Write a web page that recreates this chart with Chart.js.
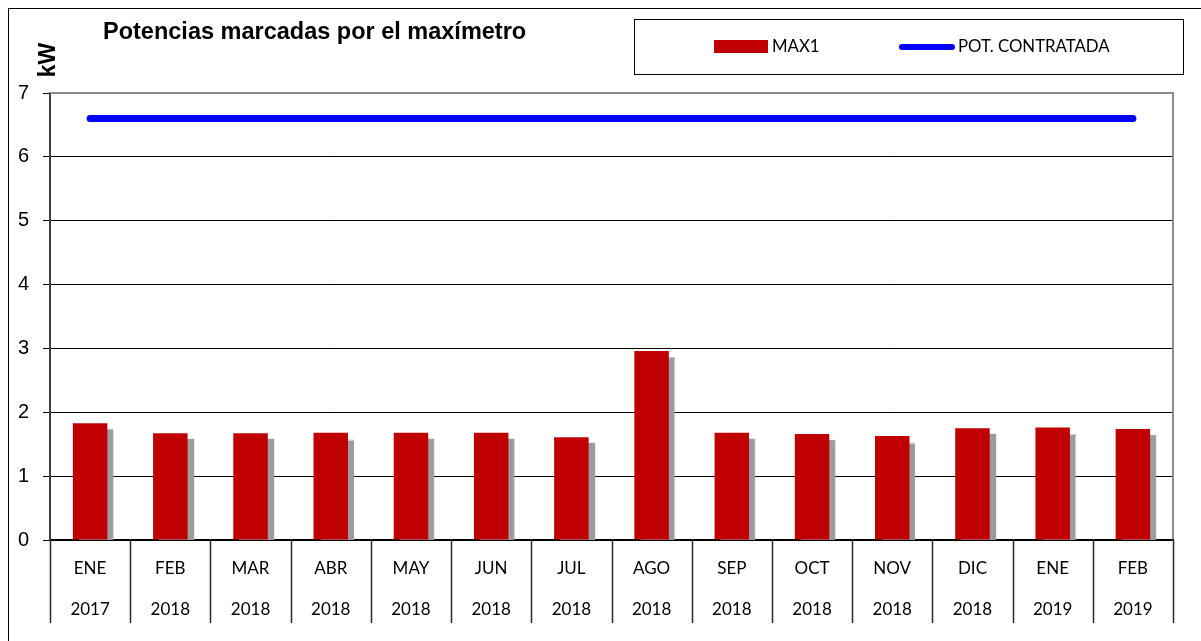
<!DOCTYPE html>
<html>
<head>
<meta charset="utf-8">
<script src="https://cdn.jsdelivr.net/npm/chart.js@4/dist/chart.umd.min.js"></script>
<style>
  html, body { margin: 0; padding: 0; background: #fff; }
  #wrap { position: relative; width: 1201px; height: 641px; }
</style>
</head>
<body>
<div id="wrap"><canvas id="chart"></canvas></div>
<script>
const months = ["ENE", "FEB", "MAR", "ABR", "MAY", "JUN", "JUL", "AGO", "SEP", "OCT", "NOV", "DIC", "ENE", "FEB"];
const years = ["2017", "2018", "2018", "2018", "2018", "2018", "2018", "2018", "2018", "2018", "2018", "2018", "2019", "2019"];
const max1 = [1.83, 1.67, 1.67, 1.68, 1.68, 1.68, 1.61, 2.96, 1.68, 1.66, 1.63, 1.75, 1.76, 1.74];
const potContratada = [6.6, 6.6, 6.6, 6.6, 6.6, 6.6, 6.6, 6.6, 6.6, 6.6, 6.6, 6.6, 6.6, 6.6];
const yTicks = [0, 1, 2, 3, 4, 5, 6, 7];

const titleText = "Potencias marcadas por el maxímetro";
const unitText = "kW";

const labels = months.map((m, i) => [m, years[i]]);

// shadows, frame, separators, title and the boxed legend
const decor = {
  id: "decor",
  beforeDraw(chart) {
    const ctx = chart.ctx;
    ctx.save();
    ctx.fillStyle = "#fff";
    ctx.fillRect(0, 0, chart.width, chart.height);
    ctx.restore();
  },
  beforeDatasetDraw(chart, args) {
    if (args.index !== 0) return;
    const ctx = chart.ctx;
    ctx.save();
    ctx.shadowColor = "#9c9c9c";
    ctx.shadowOffsetX = 6;
    ctx.shadowOffsetY = 6;
    ctx.shadowBlur = 1;
  },
  afterDatasetDraw(chart, args) {
    if (args.index !== 0) return;
    chart.ctx.restore();
  },
  afterDraw(chart) {
    const ctx = chart.ctx;
    const a = chart.chartArea;
    const x = chart.scales.x;
    ctx.save();

    // plot area border: grey top/right, dark left
    ctx.strokeStyle = "#8c8c8c";
    ctx.lineWidth = 2;
    ctx.beginPath();
    ctx.moveTo(a.left, a.top);
    ctx.lineTo(a.right, a.top);
    ctx.lineTo(a.right, a.bottom);
    ctx.stroke();

    // category separators below the axis
    const half = (x.getPixelForValue(1) - x.getPixelForValue(0)) / 2;
    ctx.strokeStyle = "#2b2b2b";
    ctx.lineWidth = 1.5;
    for (let i = 0; i <= months.length; i++) {
      const px = Math.round(x.getPixelForValue(i) - half) + 0.5;
      ctx.beginPath();
      ctx.moveTo(px, a.bottom - 1);
      ctx.lineTo(px, a.bottom + 83);
      ctx.stroke();
    }

    // outer frame
    ctx.strokeStyle = "#000";
    ctx.lineWidth = 1;
    ctx.strokeRect(8.5, 8.5, 1210, 650);

    // title
    ctx.fillStyle = "#000";
    ctx.font = "bold 23.5px 'Liberation Sans', Arial, sans-serif";
    ctx.textBaseline = "alphabetic";
    ctx.textAlign = "left";
    ctx.fillText(titleText, 103, 39);

    // unit label
    ctx.save();
    ctx.translate(55, 60);
    ctx.rotate(-Math.PI / 2);
    ctx.textAlign = "center";
    ctx.font = "bold 23px 'Liberation Sans', Arial, sans-serif";
    ctx.fillText(unitText, 0, 0);
    ctx.restore();

    // legend box
    ctx.strokeStyle = "#000";
    ctx.lineWidth = 1;
    ctx.strokeRect(634.5, 19.5, 549, 55);
    const ds = chart.data.datasets;
    ctx.fillStyle = ds[0].backgroundColor;
    ctx.fillRect(714, 40, 54, 13);
    ctx.strokeStyle = ds[1].borderColor;
    ctx.lineWidth = 6;
    ctx.lineCap = "round";
    ctx.beginPath();
    ctx.moveTo(902, 47);
    ctx.lineTo(952, 47);
    ctx.stroke();
    ctx.fillStyle = "#000";
    ctx.font = "16.8px Lato, 'Open Sans', sans-serif";
    ctx.textBaseline = "middle";
    ctx.fillText(ds[0].label, 772, 47);
    ctx.fillText(ds[1].label, 958, 47);

    ctx.restore();
  }
};

new Chart(document.getElementById("chart"), {
  data: {
    labels: labels,
    datasets: [
      {
        type: "bar",
        label: "MAX1",
        data: max1,
        backgroundColor: "#C00000",
        borderWidth: 0,
        barPercentage: 0.43,
        categoryPercentage: 1,
        clip: 0,
        order: 2
      },
      {
        type: "line",
        label: "POT. CONTRATADA",
        data: potContratada,
        borderColor: "#0000FF",
        borderWidth: 7,
        borderCapStyle: "round",
        pointRadius: 0,
        fill: false,
        clip: false,
        order: 1
      }
    ]
  },
  options: {
    responsive: true,
    maintainAspectRatio: false,
    animation: false,
    layout: { padding: { top: 93, right: 28, left: 0, bottom: 0 } },
    plugins: {
      legend: { display: false },
      title: { display: false },
      tooltip: { enabled: false }
    },
    scales: {
      x: {
        grid: { display: false },
        border: { display: true, color: "#000", width: 1.5 },
        ticks: {
          color: "#000",
          font: { family: "Lato, 'Open Sans', sans-serif", size: 17, lineHeight: 2.4 },
          padding: 0,
          maxRotation: 0,
          autoSkip: false
        },
        afterFit(scale) { scale.height = 101; }
      },
      y: {
        min: 0,
        max: 7,
        afterBuildTicks(scale) { scale.ticks = yTicks.map(v => ({ value: v })); },
        grid: { color: "#000", lineWidth: 1, tickLength: 7 },
        border: { display: true, color: "#404040", width: 2 },
        ticks: {
          color: "#000",
          font: { family: "'Liberation Sans', Arial, sans-serif", size: 20 },
          padding: 14
        },
        afterFit(scale) { scale.width = 50; }
      }
    }
  },
  plugins: [decor]
});
</script>
</body>
</html>
